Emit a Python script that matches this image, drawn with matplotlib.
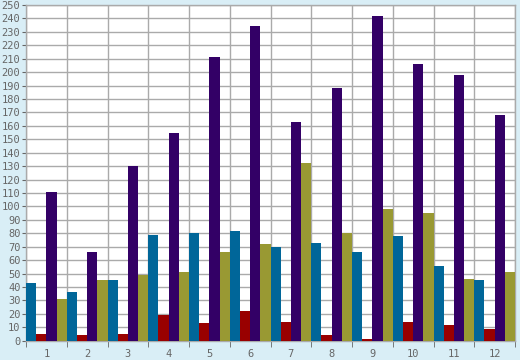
import matplotlib
matplotlib.use("Agg")
import matplotlib.pyplot as plt
import numpy as np

categories = ["1", "2", "3", "4", "5", "6", "7", "8", "9", "10", "11", "12"]
series_blue = [43, 36, 45, 79, 80, 82, 70, 73, 66, 78, 56, 45]
series_red = [5, 4, 5, 19, 13, 22, 14, 4, 1, 14, 12, 9]
series_purple = [111, 66, 130, 155, 211, 234, 163, 188, 242, 206, 198, 168]
series_olive = [31, 45, 49, 51, 66, 72, 132, 80, 98, 95, 46, 51]

series = [series_blue, series_red, series_purple, series_olive]
colors = ["#006699", "#990000", "#330066", "#999933"]

bg = "#d9eef6"
fig = plt.figure(figsize=(5.2, 3.6), dpi=100, facecolor=bg)
ax = fig.add_axes([26/520, (360-340.7)/360, (515-26)/520, (340.7-5)/360])
ax.set_facecolor("white")

x = np.arange(len(categories))
w = 0.25
for k, (vals, c) in enumerate(zip(series, colors)):
    ax.bar(x + (k - 1.5) * w, vals, width=w, color=c, linewidth=0, zorder=3)

ax.set_xlim(-0.5, len(categories) - 0.5)
ax.set_ylim(0, 250)
ax.set_yticks(np.arange(0, 251, 10))
ax.set_xticks(x)
ax.set_xticklabels(categories)
ax.set_xticks(np.arange(-0.5, len(categories) + 0.5, 1), minor=True)

ax.grid(True, which="major", axis="y", color="#aaaaaa", linewidth=1, zorder=1)
ax.grid(True, which="minor", axis="x", color="#aaaaaa", linewidth=1, zorder=1)
ax.grid(False, which="major", axis="x")

for s in ax.spines.values():
    s.set_color("#aaaaaa")
    s.set_linewidth(1)

ax.tick_params(axis="y", which="major", length=3, color="#666666", labelcolor="#666666",
               labelsize=7.5, pad=1)
ax.tick_params(axis="x", which="major", length=0, labelcolor="#666666", labelsize=7.5, pad=6)
ax.tick_params(axis="x", which="minor", length=4, color="#666666", direction="out")
for lab in ax.get_xticklabels() + ax.get_yticklabels():
    lab.set_family("DejaVu Sans Mono")

fig.savefig("out.png", dpi=100, facecolor=bg)
